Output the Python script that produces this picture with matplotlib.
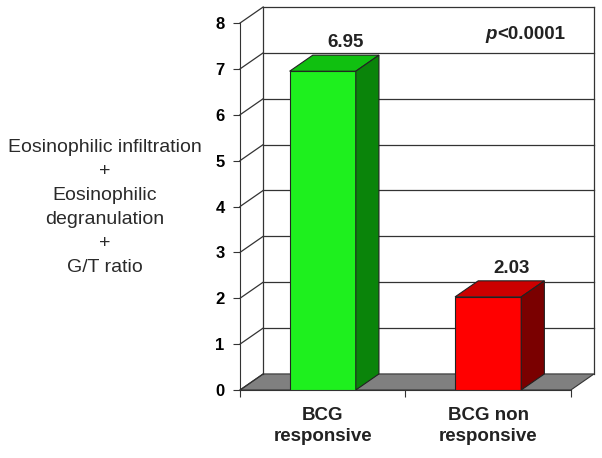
import matplotlib
matplotlib.use("Agg")
import matplotlib.pyplot as plt
from matplotlib.patches import Polygon

categories = ["BCG\nresponsive", "BCG non\nresponsive"]
values = [6.95, 2.03]
labels = ["6.95", "2.03"]
yticks = [0, 1, 2, 3, 4, 5, 6, 7, 8]
front_colors = ["#1ef01e", "#ff0000"]
top_colors = ["#10c010", "#cc0000"]
side_colors = ["#0a840a", "#7a0000"]

W, H = 602, 458
fig = plt.figure(figsize=(W / 100, H / 100), dpi=100)
ax = fig.add_axes([240 / W, (H - 390) / H, (594 - 240) / W, (390 - 7) / H])

dx, dy = 0.14, 0.35
ymax = 8
ax.set_xlim(0, 2 + dx)
ax.set_ylim(0, ymax + dy)
for s in ["top", "right"]:
    ax.spines[s].set_visible(False)
ax.spines["left"].set_bounds(0, ymax)
ax.spines["bottom"].set_bounds(0, 2)
ax.spines["left"].set_color("#333333")
ax.spines["bottom"].set_color("#333333")
ax.set_yticks(yticks)
ax.set_yticklabels([str(t) for t in yticks], fontsize=12, fontweight="bold",
                   family="Liberation Sans")
ax.set_xticks([0, 1, 2])
ax.set_xticklabels([])
ax.set_xticks([0.5, 1.5], minor=True)
ax.set_xticklabels(categories, minor=True, fontsize=13.5, fontweight="bold",
                   family="Liberation Sans", linespacing=1.35, color="#222222")
ax.tick_params(axis="x", which="minor", length=0, pad=12)
ax.tick_params(axis="x", which="major", length=5, color="#333333")
ax.tick_params(axis="y", length=5, color="#333333", pad=6)

lc = "#333333"
# floor
ax.add_patch(Polygon([(0, 0), (2, 0), (2 + dx, dy), (dx, dy)], closed=True,
                     facecolor="#808080", edgecolor=lc, lw=0.8, clip_on=False, zorder=1))
# back wall grid
for v in yticks:
    if v > 0:
        ax.plot([dx, 2 + dx], [v + dy, v + dy], color=lc, lw=0.9, clip_on=False, zorder=1)
    ax.plot([0, dx], [v, v + dy], color=lc, lw=0.9, clip_on=False, zorder=1)
ax.plot([dx, dx], [dy, ymax + dy], color=lc, lw=0.9, clip_on=False, zorder=1)
ax.plot([2 + dx, 2 + dx], [dy, ymax + dy], color=lc, lw=0.9, clip_on=False, zorder=1)

# bars
bw = 0.4
for i, v in enumerate(values):
    c = i + 0.5
    x0, x1 = c - bw / 2, c + bw / 2
    ax.add_patch(Polygon([(x0, 0), (x1, 0), (x1, v), (x0, v)], closed=True,
                         facecolor=front_colors[i], edgecolor="#222222", lw=0.8, zorder=3))
    ax.add_patch(Polygon([(x0, v), (x1, v), (x1 + dx, v + dy), (x0 + dx, v + dy)], closed=True,
                         facecolor=top_colors[i], edgecolor="#222222", lw=0.8, zorder=3))
    ax.add_patch(Polygon([(x1, 0), (x1 + dx, dy), (x1 + dx, v + dy), (x1, v)], closed=True,
                         facecolor=side_colors[i], edgecolor="#222222", lw=0.8, zorder=3))
    ax.text(c + 0.14, v + 0.62, labels[i], ha="center", va="center", fontsize=13.5,
            fontweight="bold", family="Liberation Sans", color="#222222", zorder=4)

# p-value: italic p followed by bold text
ax.text(1.555, 7.75, "p", ha="right", va="center", fontsize=13.5, fontweight="bold",
        fontstyle="italic", family="Liberation Sans", color="#222222")
ax.text(1.555, 7.75, "<0.0001", ha="left", va="center", fontsize=13.5,
        fontweight="bold", family="Liberation Sans", color="#222222")

fig.text(105 / W, 1 - 207.5 / H,
         "Eosinophilic infiltration\n+\nEosinophilic\ndegranulation\n+\nG/T ratio",
         ha="center", va="center", fontsize=14, family="Liberation Sans",
         color="#2a2a2a", linespacing=1.53)

fig.savefig("out.png", dpi=100)
